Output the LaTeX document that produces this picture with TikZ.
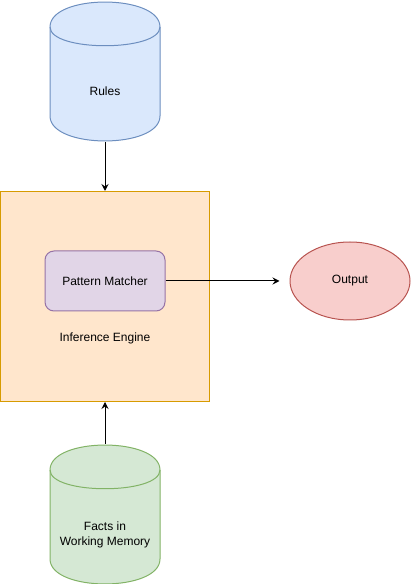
\documentclass[tikz,border=0pt]{standalone}
\usepackage{fontspec}
\setmainfont{Liberation Sans}
\usepackage{xcolor}
\usepackage{tikz}
\usetikzlibrary{arrows.meta,positioning,shapes.geometric}

\definecolor{rulesfill}{HTML}{DAE8FC}
\definecolor{rulesdraw}{HTML}{6C8EBF}
\definecolor{factsfill}{HTML}{D5E8D4}
\definecolor{factsdraw}{HTML}{82B366}
\definecolor{enginefill}{HTML}{FFE6CC}
\definecolor{enginedraw}{HTML}{D79B00}
\definecolor{pmfill}{HTML}{E1D5E7}
\definecolor{pmdraw}{HTML}{9673A6}
\definecolor{outfill}{HTML}{F8CECC}
\definecolor{outdraw}{HTML}{B85450}

\begin{document}
\begin{tikzpicture}[
  x=1pt, y=1pt, line width=1pt,
  txt/.style={align=center, inner sep=0pt, font=\fontsize{12}{15}\selectfont},
  db/.style 2 args={minimum width=111pt, minimum height=140pt, inner sep=0pt,
    path picture={
      \draw[fill=#1, draw=#2] (-55,44.5) .. controls (-55,77.8) and (55,77.8) .. (55,44.5)
        -- (55,-44.5) .. controls (55,-77.8) and (-55,-77.8) .. (-55,-44.5) -- cycle;
      \draw[draw=#2] (-55,44.5) .. controls (-55,19.5) and (55,19.5) .. (55,44.5);}},
  engine/.style={draw=enginedraw, fill=enginefill, rectangle, minimum width=209pt, minimum height=210pt, inner sep=0pt},
  pm/.style={draw=pmdraw, fill=pmfill, rectangle, rounded corners=9pt, minimum width=120pt, minimum height=60pt, txt},
  outp/.style={draw=outdraw, fill=outfill, ellipse, minimum width=120pt, minimum height=78pt, inner sep=0pt, txt},
  arr/.style={-{Stealth[length=7pt, width=7pt, inset=2.5pt]}, line width=1pt}
]
\useasboundingbox (0,0) rectangle (411,584);
\node[db={rulesfill}{rulesdraw}] (rules) at (105,512.5) {};
\node[txt] (rulestxt) at ([yshift=-20pt]rules.center) {Rules};
\node[engine, below=49pt of rules] (engine) {};
\node[txt] (enginetxt) at ([yshift=-42pt]engine.center) {Inference Engine};
\node[pm] (pm) at ([yshift=15.5pt]engine.center) {Pattern Matcher};
\node[outp, right=124pt of pm] (out) {Output};
\node[db={factsfill}{factsdraw}, below=42pt of engine] (facts) {};
\node[txt] (factstxt) at ([yshift=-20pt]facts.center) {Facts in\\Working Memory};
\draw[arr] (rules) -- (engine);
\draw[arr] (facts) -- (engine);
\draw[arr, shorten >=10pt] (pm) -- (out);
\end{tikzpicture}
\end{document}
